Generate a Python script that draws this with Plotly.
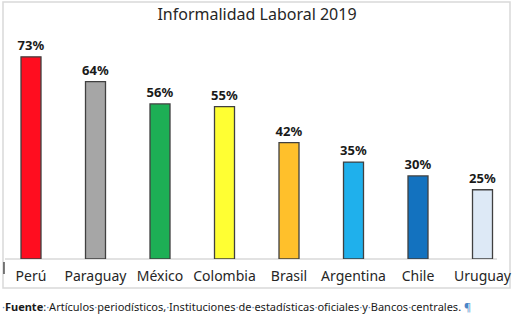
import plotly.graph_objects as go

countries = ["Perú", "Paraguay", "México", "Colombia", "Brasil", "Argentina", "Chile", "Uruguay"]
values = [73, 64, 56, 55, 42, 35, 30, 25]
colors = ["#FF0D1F", "#A6A6A6", "#1DAF55", "#FFFF33", "#FFC02B", "#1FB0EC", "#1372BF", "#DDE9F6"]
labels = [f"<b>{v}%</b>" for v in values]

FONT = "Noto Sans"
W, H = 514, 322
plot_top, plot_bottom = 30, 259
ph = plot_bottom - plot_top

fig = go.Figure(go.Bar(
    x=countries, y=values, text=labels, textposition="outside", constraintext="none",
    textfont=dict(family=FONT, size=13, color="#1a1a1a"),
    marker=dict(color=colors, line=dict(color="#404040", width=1.3)),
    width=0.31, cliponaxis=False,
))

def py(p):
    return (plot_bottom - p) / ph

fig.update_layout(
    width=W, height=H, margin=dict(l=0, r=0, t=plot_top, b=H - plot_bottom),
    paper_bgcolor="white", plot_bgcolor="white", showlegend=False,
    title=dict(text="Informalidad Laboral 2019", x=0.5, xanchor="center", y=1 - 14 / H, yanchor="middle",
               font=dict(family=FONT, size=16, color="#262626")),
    xaxis=dict(range=[-31 / 64.5, -31 / 64.5 + W / 64.5], showgrid=False, zeroline=False, showline=False,
               ticks="outside", ticklen=4, tickcolor="rgba(0,0,0,0)",
               tickfont=dict(family=FONT, size=14, color="#262626")),
    yaxis=dict(range=[0, ph / 2.77], visible=False),
    font=dict(family=FONT),
    shapes=[
        dict(type="rect", xref="paper", yref="paper", x0=3 / W, x1=510 / W, y0=py(288), y1=py(2),
             line=dict(color="#d9d9d9", width=1.5), layer="below"),
        dict(type="line", xref="paper", yref="paper", x0=5 / W, x1=497 / W, y0=0, y1=0,
             line=dict(color="#d9d9d9", width=1.5), layer="below"),
        dict(type="line", xref="paper", yref="paper", x0=4 / W, x1=4 / W, y0=py(262), y1=py(274),
             line=dict(color="#000000", width=1)),
    ],
)

dot = "<span style='color:#4a86c8'>·</span>"
foot = (dot + "<b>Fuente</b>:" + dot + "Artículos" + dot + "periodísticos," + dot + "Instituciones" + dot + "de" + dot
        + "estadísticas" + dot + "oficiales" + dot + "y" + dot + "Bancos" + dot + "centrales."
        + " <span style='color:#4a86c8'>¶</span>")
fig.add_annotation(text=foot, xref="paper", yref="paper", x=0, y=py(306), xanchor="left", yanchor="middle",
                   showarrow=False, font=dict(family=FONT, size=11, color="#1a1a1a"))

fig.write_html("out.html")
